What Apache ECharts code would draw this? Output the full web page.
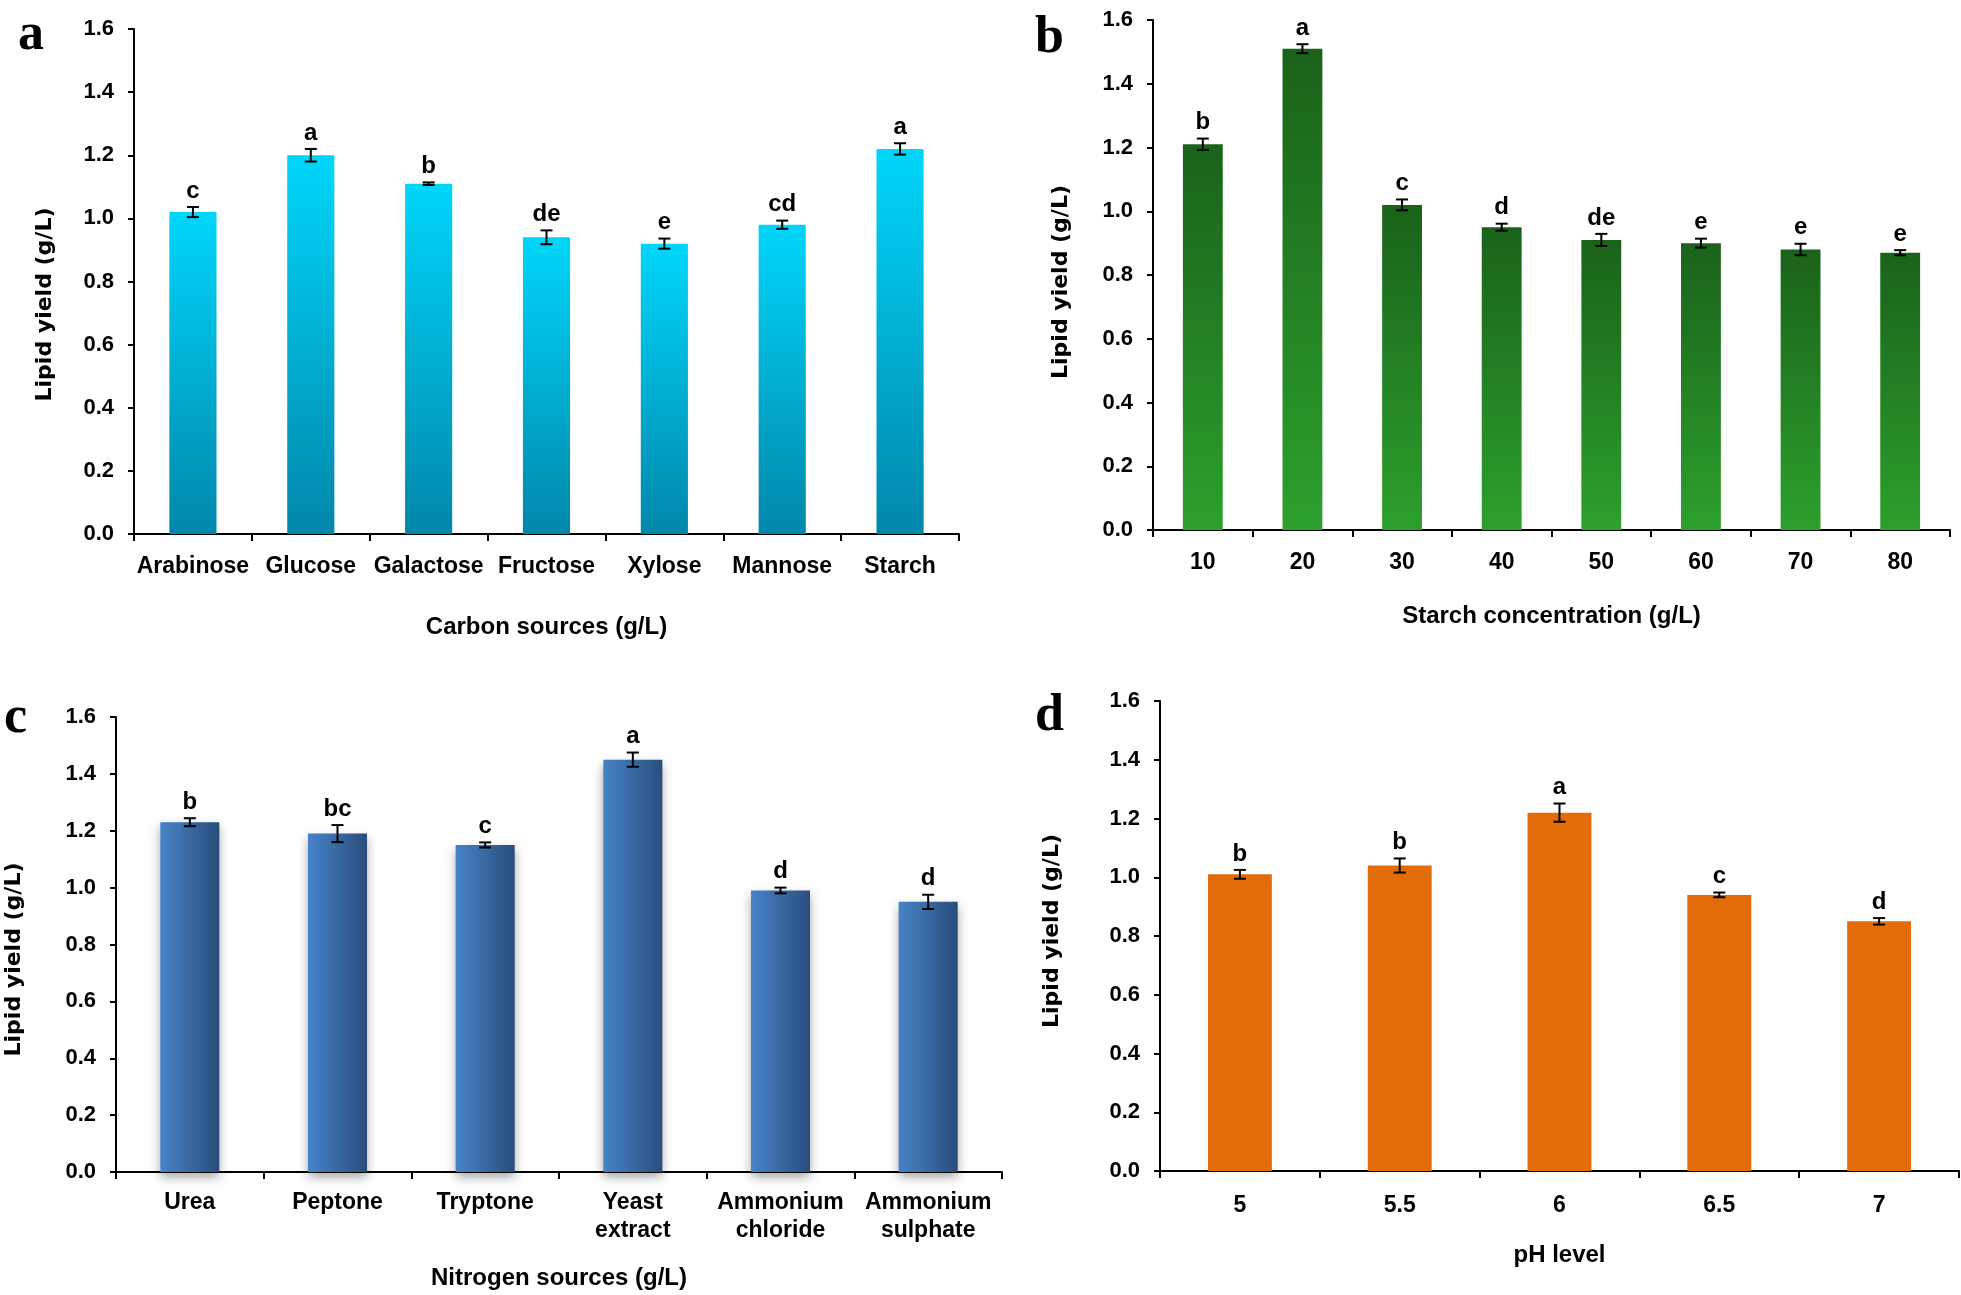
<!DOCTYPE html>
<html>
<head>
<meta charset="utf-8">
<script src="https://cdn.jsdelivr.net/npm/echarts@6/dist/echarts.min.js"></script>
<style>
html, body { margin: 0; padding: 0; background: #fff; }
#chart { width: 1961px; height: 1295px; }
</style>
</head>
<body>
<div id="chart"></div>
<script>
// panel a - carbon sources
var carbonCats = ['Arabinose', 'Glucose', 'Galactose', 'Fructose', 'Xylose', 'Mannose', 'Starch'];
var carbonYield = [1.02, 1.20, 1.11, 0.94, 0.92, 0.98, 1.22];
var carbonErr = [0.016, 0.02, 0.004, 0.022, 0.016, 0.013, 0.018];
var carbonLetters = ['c', 'a', 'b', 'de', 'e', 'cd', 'a'];

// panel b - starch concentration
var starchCats = ['10', '20', '30', '40', '50', '60', '70', '80'];
var starchYield = [1.21, 1.51, 1.02, 0.95, 0.91, 0.90, 0.88, 0.87];
var starchErr = [0.018, 0.014, 0.017, 0.011, 0.019, 0.014, 0.018, 0.008];
var starchLetters = ['b', 'a', 'c', 'd', 'de', 'e', 'e', 'e'];

// panel c - nitrogen sources
var nitrogenCats = ['Urea', 'Peptone', 'Tryptone', 'Yeast\nextract', 'Ammonium\nchloride', 'Ammonium\nsulphate'];
var nitrogenYield = [1.23, 1.19, 1.15, 1.45, 0.99, 0.95];
var nitrogenErr = [0.014, 0.03, 0.009, 0.025, 0.01, 0.025];
var nitrogenLetters = ['b', 'bc', 'c', 'a', 'd', 'd'];

// panel d - pH
var phCats = ['5', '5.5', '6', '6.5', '7'];
var phYield = [1.01, 1.04, 1.22, 0.94, 0.85];
var phErr = [0.015, 0.024, 0.031, 0.008, 0.011];
var phLetters = ['b', 'b', 'a', 'c', 'd'];

var FONT = '"Liberation Sans", Arial, sans-serif';
var chart = echarts.init(document.getElementById('chart'));

function xAxisFor(idx, cats, name, gap, margin) {
	return {
		type: 'category',
		gridIndex: idx,
		data: cats,
		name: name,
		nameLocation: 'middle',
		nameGap: gap,
		nameTextStyle: { color: '#000', fontFamily: FONT, fontWeight: 'bold', fontSize: 24, verticalAlign: 'middle' },
		axisLine: { lineStyle: { color: '#000', width: 2 } },
		axisTick: { show: true, length: 7, lineStyle: { color: '#000', width: 2 } },
		axisLabel: { color: '#000', fontFamily: FONT, fontWeight: 'bold', fontSize: 23, margin: margin, lineHeight: 28, interval: 0 }
	};
}

function yAxisFor(idx, gap, shift) {
	// shift moves the rotated name along the axis (positive = down)
	var pad = shift >= 0 ? [0, 2 * shift, 0, 0] : [0, 0, 0, -2 * shift];
	return {
		type: 'value',
		gridIndex: idx,
		min: 0,
		max: 1.6,
		interval: 0.2,
		name: 'Lipid yield (g/L)',
		nameLocation: 'middle',
		nameGap: gap,
		nameTextStyle: { color: '#000', fontFamily: '"DejaVu Sans", Verdana, sans-serif', fontWeight: 'bold', fontSize: 22, verticalAlign: 'middle', padding: pad },
		splitLine: { show: false },
		axisLine: { show: true, lineStyle: { color: '#000', width: 2 } },
		axisTick: { show: true, length: 6, lineStyle: { color: '#000', width: 2 } },
		axisLabel: {
			color: '#000', fontFamily: FONT, fontWeight: 'bold', fontSize: 22, margin: 20,
			formatter: function (v) { return v.toFixed(1); }
		}
	};
}

function errSeries(idx, vals, errs, letters) {
	var data = vals.map(function (v, i) { return [i, v, errs[i], letters[i]]; });
	return {
		type: 'custom',
		xAxisIndex: idx,
		yAxisIndex: idx,
		z: 5,
		encode: { x: 0, y: 1 },
		data: data,
		renderItem: function (params, api) {
			var i = api.value(0);
			var v = api.value(1);
			var e = api.value(2);
			var top = api.coord([i, v + e]);
			var bot = api.coord([i, v - e]);
			var w = 6;
			var st = { stroke: '#000', lineWidth: 2 };
			return {
				type: 'group',
				children: [
					{ type: 'line', shape: { x1: top[0], y1: top[1], x2: bot[0], y2: bot[1] }, style: st },
					{ type: 'line', shape: { x1: top[0] - w, y1: top[1], x2: top[0] + w, y2: top[1] }, style: st },
					{ type: 'line', shape: { x1: bot[0] - w, y1: bot[1], x2: bot[0] + w, y2: bot[1] }, style: st },
					{
						type: 'text',
						style: {
							text: letters[i], x: top[0], y: top[1] - 4,
							align: 'center', verticalAlign: 'bottom',
							fill: '#000', font: 'bold 24px ' + FONT
						}
					}
				]
			};
		}
	};
}

function panelLabel(txt, x, y) {
	return {
		type: 'text',
		left: x,
		top: y,
		style: { text: txt, fill: '#000', font: 'bold 52px "Liberation Serif", "Times New Roman", serif' }
	};
}

chart.setOption({
	animation: false,
	backgroundColor: '#fff',
	grid: [
		{ left: 134, top: 29, width: 825, height: 505 },
		{ left: 1153, top: 20, width: 797, height: 510 },
		{ left: 116, top: 717, width: 886, height: 455 },
		{ left: 1160, top: 701, width: 799, height: 470 }
	],
	xAxis: [
		xAxisFor(0, carbonCats, 'Carbon sources (g/L)', 93, 19),
		xAxisFor(1, starchCats, 'Starch concentration (g/L)', 86, 19),
		xAxisFor(2, nitrogenCats, 'Nitrogen sources (g/L)', 106, 17),
		xAxisFor(3, phCats, 'pH level', 84, 21)
	],
	yAxis: [
		yAxisFor(0, 89, 23),
		yAxisFor(1, 92, 7),
		yAxisFor(2, 102, 15),
		yAxisFor(3, 108, -5)
	],
	graphic: [
		panelLabel('a', 18, 10),
		panelLabel('b', 1035, 13),
		panelLabel('c', 4, 693),
		panelLabel('d', 1035, 691)
	],
	series: [
		{
			type: 'bar', xAxisIndex: 0, yAxisIndex: 0, barWidth: '40%', data: carbonYield,
			itemStyle: {
				color: new echarts.graphic.LinearGradient(0, 0, 0, 1, [
					{ offset: 0, color: '#00d6fa' },
					{ offset: 1, color: '#0087aa' }
				])
			}
		},
		errSeries(0, carbonYield, carbonErr, carbonLetters),
		{
			type: 'bar', xAxisIndex: 1, yAxisIndex: 1, barWidth: '40%', data: starchYield,
			itemStyle: {
				color: new echarts.graphic.LinearGradient(0, 0, 0, 1, [
					{ offset: 0, color: '#1a621a' },
					{ offset: 1, color: '#2ca02c' }
				])
			}
		},
		errSeries(1, starchYield, starchErr, starchLetters),
		{
			type: 'bar', xAxisIndex: 2, yAxisIndex: 2, barWidth: '40%', data: nitrogenYield,
			itemStyle: {
				color: new echarts.graphic.LinearGradient(0, 0, 1, 0, [
					{ offset: 0, color: '#4783c8' },
					{ offset: 1, color: '#2a4d7c' }
				]),
				shadowColor: 'rgba(0,0,0,0.35)',
				shadowBlur: 10,
				shadowOffsetY: 5
			}
		},
		errSeries(2, nitrogenYield, nitrogenErr, nitrogenLetters),
		{
			type: 'bar', xAxisIndex: 3, yAxisIndex: 3, barWidth: '40%', data: phYield,
			itemStyle: { color: '#e36c0a' }
		},
		errSeries(3, phYield, phErr, phLetters)
	]
});
</script>
</body>
</html>
